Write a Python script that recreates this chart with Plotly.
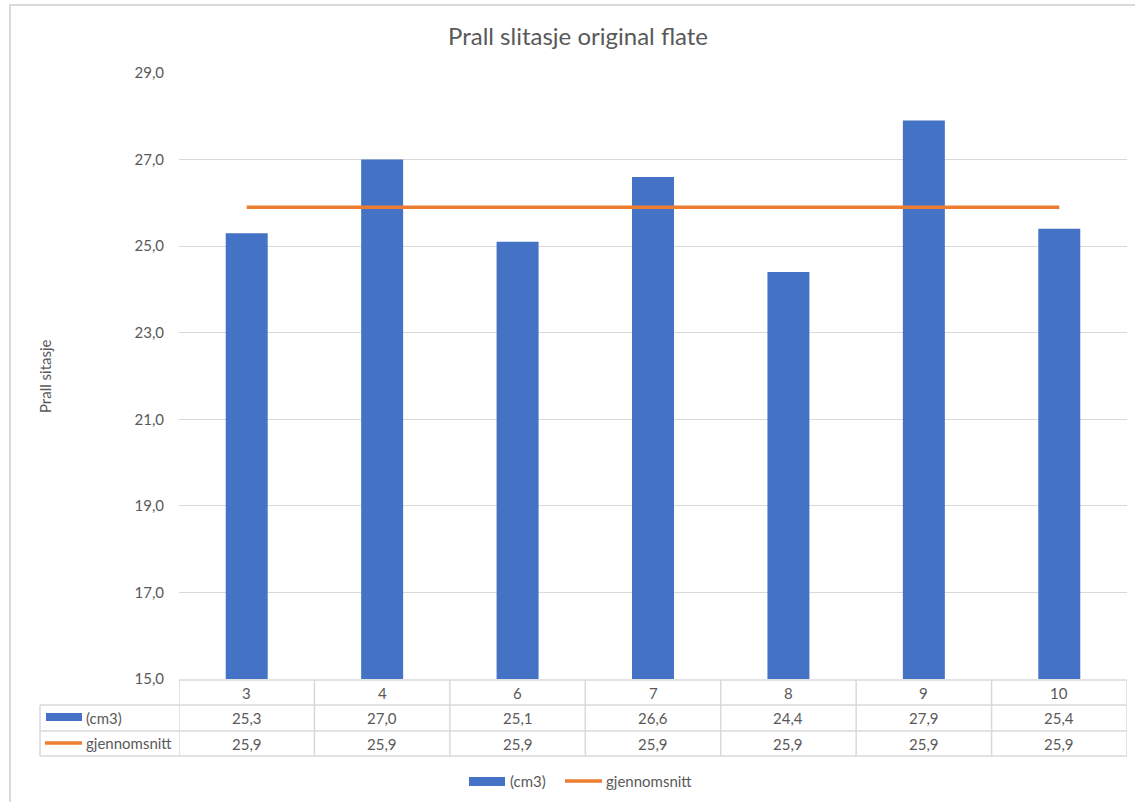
import plotly.graph_objects as go

# Chart data
categories = ["3", "4", "6", "7", "8", "9", "10"]
wear_cm3 = [25.3, 27.0, 25.1, 26.6, 24.4, 27.9, 25.4]
average = [25.9, 25.9, 25.9, 25.9, 25.9, 25.9, 25.9]
series_names = ["(cm3)", "gjennomsnitt"]
y_ticks = [15, 17, 19, 21, 23, 25, 27, 29]

BLUE = "#4472C4"
ORANGE = "#ED7D31"
TEXT = "#595959"
GRID = "#D9D9D9"
FONT = "Lato"

W, H = 1135, 802
L, R, T, B = 179, 1127, 73, 679  # plot area in pixels
PW, PH = R - L, B - T


def px(x):
    return (x - L) / PW


def py(y):
    return (B - y) / PH


def fmt(v):
    return f"{v:.1f}".replace(".", ",")


fig = go.Figure()
fig.add_trace(go.Bar(x=categories, y=wear_cm3, name=series_names[0],
                     marker=dict(color=BLUE, line=dict(width=0))))
fig.add_trace(go.Scatter(x=categories, y=average, name=series_names[1], mode="lines",
                         line=dict(color=ORANGE, width=3.5)))

shapes = []
line_style = dict(color=GRID, width=1.5)

# outer chart border
shapes.append(dict(type="rect", xref="paper", yref="paper",
                   x0=px(10), x1=px(1160), y0=py(5), y1=py(830),
                   line=dict(color=GRID, width=2), layer="below"))

# data table grid
n = len(categories)
row_tops = [680, 705, 731, 756]
for i, yy in enumerate(row_tops):
    if i == 0:
        shapes.append(dict(type="line", xref="x", yref="paper", x0=-0.5, x1=n - 0.5,
                           y0=py(yy), y1=py(yy), line=line_style))
    else:
        shapes.append(dict(type="line", xref="paper", yref="paper", x0=px(40), x1=1.0,
                           y0=py(yy), y1=py(yy), line=line_style))
shapes.append(dict(type="line", xref="paper", yref="paper", x0=px(40), x1=px(40),
                   y0=py(705), y1=py(756), line=line_style))
for k in range(n + 1):
    shapes.append(dict(type="line", xref="x", yref="paper", x0=k - 0.5, x1=k - 0.5,
                       y0=py(680), y1=py(756), line=line_style))

# series keys inside the table
shapes.append(dict(type="rect", xref="paper", yref="paper", x0=px(46), x1=px(82),
                   y0=py(721), y1=py(713), fillcolor=BLUE, line=dict(width=0)))
shapes.append(dict(type="line", xref="paper", yref="paper", x0=px(45), x1=px(82),
                   y0=py(743), y1=py(743), line=dict(color=ORANGE, width=3.5)))

# bottom legend keys
shapes.append(dict(type="rect", xref="paper", yref="paper", x0=px(469), x1=px(505),
                   y0=py(786), y1=py(777), fillcolor=BLUE, line=dict(width=0)))
shapes.append(dict(type="line", xref="paper", yref="paper", x0=px(565), x1=px(602),
                   y0=py(781), y1=py(781), line=dict(color=ORANGE, width=3.5)))

annotations = []
tfont = dict(family=FONT, size=15, color=TEXT)
for i, c in enumerate(categories):
    annotations.append(dict(x=i, y=py(692.5), xref="x", yref="paper", text=c,
                            showarrow=False, font=tfont, xanchor="center", yanchor="middle"))
    annotations.append(dict(x=i, y=py(718), xref="x", yref="paper", text=fmt(wear_cm3[i]),
                            showarrow=False, font=tfont, xanchor="center", yanchor="middle"))
    annotations.append(dict(x=i, y=py(743.5), xref="x", yref="paper", text=fmt(average[i]),
                            showarrow=False, font=tfont, xanchor="center", yanchor="middle"))

for label, yy in zip(series_names, [717.5, 743]):
    annotations.append(dict(x=px(84), y=py(yy), xref="paper", yref="paper", text=label,
                            showarrow=False, font=tfont, xanchor="left", yanchor="middle"))
for label, xx in zip(series_names, [508, 604]):
    annotations.append(dict(x=px(xx), y=py(781), xref="paper", yref="paper", text=label,
                            showarrow=False, font=tfont, xanchor="left", yanchor="middle"))

# y axis title
annotations.append(dict(x=px(45), y=py(376), xref="paper", yref="paper", text="Prall sitasje",
                        textangle=-90, showarrow=False, font=dict(family=FONT, size=15, color=TEXT),
                        xanchor="center", yanchor="middle"))

fig.update_layout(
    width=W, height=H, autosize=False,
    margin=dict(l=L, r=W - R, t=T, b=H - B, pad=0),
    paper_bgcolor="white", plot_bgcolor="white",
    separators=",.",
    showlegend=False,
    bargap=0.69,
    title=dict(text="Prall slitasje original flate", x=px(578), xanchor="center",
               y=1 - 37 / H, yanchor="middle", xref="paper",
               font=dict(family=FONT, size=24, color=TEXT)),
    xaxis=dict(type="category", range=[-0.5, n - 0.5], showticklabels=False,
               showgrid=False, zeroline=False, showline=False, ticks=""),
    yaxis=dict(range=[15, 29], tickvals=y_ticks, tickformat=".1f",
               showgrid=True, gridcolor=GRID, gridwidth=1, zeroline=False, showline=False,
               ticks="", ticklabelstandoff=14,
               tickfont=dict(family=FONT, size=15, color=TEXT)),
    shapes=shapes,
    annotations=annotations,
    font=dict(family=FONT, color=TEXT),
)

fig.write_html("out.html")
